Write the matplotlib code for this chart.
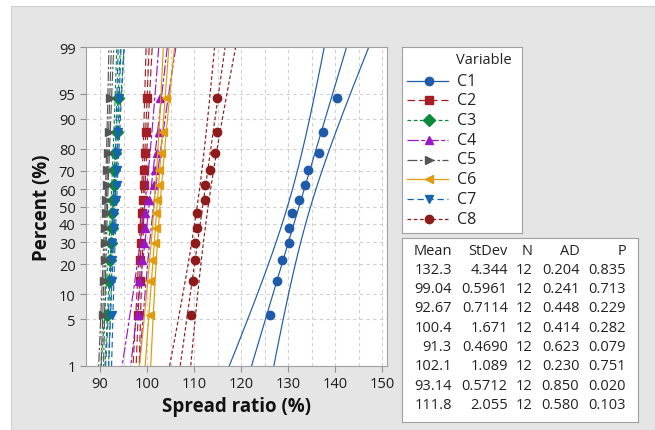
import numpy as np
import matplotlib
matplotlib.use("Agg")
import matplotlib.pyplot as plt
from matplotlib.patches import Rectangle
from statistics import NormalDist

plt.rcParams['font.family'] = ['Open Sans', 'DejaVu Sans']

# data (12 values per variable, sorted)
c1 = [126.1, 127.7, 128.6, 130.1, 130.2, 130.8, 132.2, 133.6, 134.2, 136.6, 137.3, 140.4]
c2 = [98.0, 98.4, 98.5, 98.7, 98.9, 99.0, 99.2, 99.3, 99.4, 99.6, 99.8, 100.0]
c3 = [91.5, 91.8, 92.1, 92.3, 92.5, 92.6, 92.7, 92.9, 93.0, 93.2, 93.5, 93.8]
c4 = [98.0, 98.3, 98.9, 99.3, 99.6, 99.6, 100.3, 101.5, 101.7, 102.2, 102.5, 102.8]
c5 = [90.6, 90.8, 91.0, 91.0, 91.1, 91.2, 91.3, 91.4, 91.5, 91.6, 91.9, 92.2]
c6 = [100.6, 100.6, 101.1, 101.6, 101.8, 101.9, 102.2, 102.5, 102.6, 103.0, 103.4, 104.1]
c7 = [92.5, 92.5, 92.5, 92.5, 92.9, 93.0, 93.4, 93.5, 93.5, 93.6, 93.8, 94.1]
c8 = [109.3, 109.8, 110.1, 110.1, 110.5, 110.6, 112.2, 112.3, 113.3, 114.4, 114.8, 114.8]
series = [c1, c2, c3, c4, c5, c6, c7, c8]
names = ['C1', 'C2', 'C3', 'C4', 'C5', 'C6', 'C7', 'C8']

# plotting positions (percent)
pct = [5.65, 13.71, 21.77, 29.84, 37.90, 45.97, 54.03, 62.10, 70.16, 78.23, 86.29, 94.35]

# summary table
mean_txt = ['132.3', '99.04', '92.67', '100.4', '91.3', '102.1', '93.14', '111.8']
sd_txt = ['4.344', '0.5961', '0.7114', '1.671', '0.4690', '1.089', '0.5712', '2.055']
n_txt = ['12'] * 8
ad_txt = ['0.204', '0.241', '0.448', '0.414', '0.623', '0.230', '0.850', '0.580']
p_txt = ['0.835', '0.713', '0.229', '0.282', '0.079', '0.751', '0.020', '0.103']

colors = ['#1f5ba8', '#a31f24', '#0a8a3c', '#9b17c4', '#555555', '#e09c0c', '#1565b0', '#8e1b1b']
markers = ['o', 's', 'D', '^', '>', '<', 'v', 'o']
lstyles = ['-', (0, (6, 3)), (0, (3, 2)), (0, (9, 2, 3, 2)), (0, (8, 2, 2, 2)), '-', (0, (5, 3)), (0, (3, 2))]

nd = NormalDist()
def fwd(p):
    p = np.clip(np.asarray(p, float) / 100.0, 1e-9, 1 - 1e-9)
    return np.vectorize(nd.inv_cdf, otypes=[float])(p)
def inv(z):
    return np.vectorize(nd.cdf, otypes=[float])(np.asarray(z, float)) * 100.0

W, H = 655, 431
fig = plt.figure(figsize=(W / 100, H / 100), dpi=100)
fig.patch.set_facecolor('white')
fig.add_artist(Rectangle((11 / W, 0), 1 - 11 / W, 1 - 7 / H, transform=fig.transFigure,
                         facecolor='#e5e5e5', edgecolor='#d2d2d2', lw=0.8, zorder=-10))

ax = fig.add_axes([86 / W, 1 - 367 / H, 301 / W, 319 / H])
ax.set_yscale('function', functions=(fwd, inv))

pline = np.linspace(0.3, 99.7, 300)
zline = fwd(pline)
for i, vals in enumerate(series):
    m = float(mean_txt[i]); s = float(sd_txt[i]); n = len(vals)
    fit = m + s * zline
    half = 1.96 * s * np.sqrt((1 + zline ** 2 / 2) / n)
    for xx in (fit, fit - half, fit + half):
        ax.plot(xx, pline, color=colors[i], ls=lstyles[i], lw=0.85)
    ax.plot(vals, pct, ls='none', marker=markers[i], color=colors[i], ms=6, mec=colors[i])

ax.set_xlim(87, 151)
ax.set_ylim(1, 99)
ax.set_xticks([90, 100, 110, 120, 130, 140, 150])
ax.set_xticks(np.arange(90, 151, 5), minor=True)
yt = [1, 5, 10, 20, 30, 40, 50, 60, 70, 80, 90, 95, 99]
ax.set_yticks(yt)
ax.set_yticklabels([str(v) for v in yt])
ax.yaxis.set_minor_locator(plt.NullLocator())
ax.grid(True, which='both', axis='x', color='#cfcfcf', ls=(0, (3, 3)), lw=0.8)
ax.grid(True, which='major', axis='y', color='#cfcfcf', ls=(0, (3, 3)), lw=0.8)
ax.set_axisbelow(True)
ax.tick_params(which='major', length=4, color='#909090', labelsize=10.5, labelcolor='#1e1e1e')
ax.tick_params(which='minor', length=0)
for sp in ax.spines.values():
    sp.set_color('#a0a0a0')
    sp.set_linewidth(0.8)
ax.set_xlabel('Spread ratio (%)', fontsize=13.5, fontweight='bold', labelpad=3, color='#111111')
ax.set_ylabel('Percent (%)', fontsize=13.5, fontweight='bold', labelpad=5, color='#111111')

# legend box
lg = fig.add_axes([402 / W, 1 - 234 / H, 120 / W, 186 / H])
lg.set_xlim(0, 120); lg.set_ylim(186, 0)
lg.set_xticks([]); lg.set_yticks([])
for sp in lg.spines.values():
    sp.set_color('#a0a0a0'); sp.set_linewidth(0.8)
lg.text(54, 13, 'Variable', fontsize=10.5, va='center', ha='left', color='#222222')
for i, nm in enumerate(names):
    yy = 33.7 + 19.7 * i
    lg.plot([5, 46], [yy, yy], color=colors[i], ls=lstyles[i], lw=0.9)
    lg.plot([27], [yy], marker=markers[i], color=colors[i], ms=6, ls='none')
    lg.text(55, yy, nm, fontsize=11.5, va='center', ha='left', color='#222222')

# stats table
tb = fig.add_axes([402 / W, 1 - 423 / H, 236 / W, 184 / H])
tb.set_xlim(0, 236); tb.set_ylim(184, 0)
tb.set_xticks([]); tb.set_yticks([])
for sp in tb.spines.values():
    sp.set_color('#a0a0a0'); sp.set_linewidth(0.8)
cols_x = [49.7, 105.7, 130.7, 177.3, 224]
header = ['Mean', 'StDev', 'N', 'AD', 'P']
for cx, h in zip(cols_x, header):
    tb.text(cx, 12.7, h, fontsize=10.5, ha='right', va='center', color='#222222')
for r in range(8):
    yy = 31 + 19.4 * r
    row = [mean_txt[r], sd_txt[r], n_txt[r], ad_txt[r], p_txt[r]]
    for cx, t in zip(cols_x, row):
        tb.text(cx, yy, t, fontsize=10.5, ha='right', va='center', color='#222222')

fig.savefig('out.png', dpi=100)
